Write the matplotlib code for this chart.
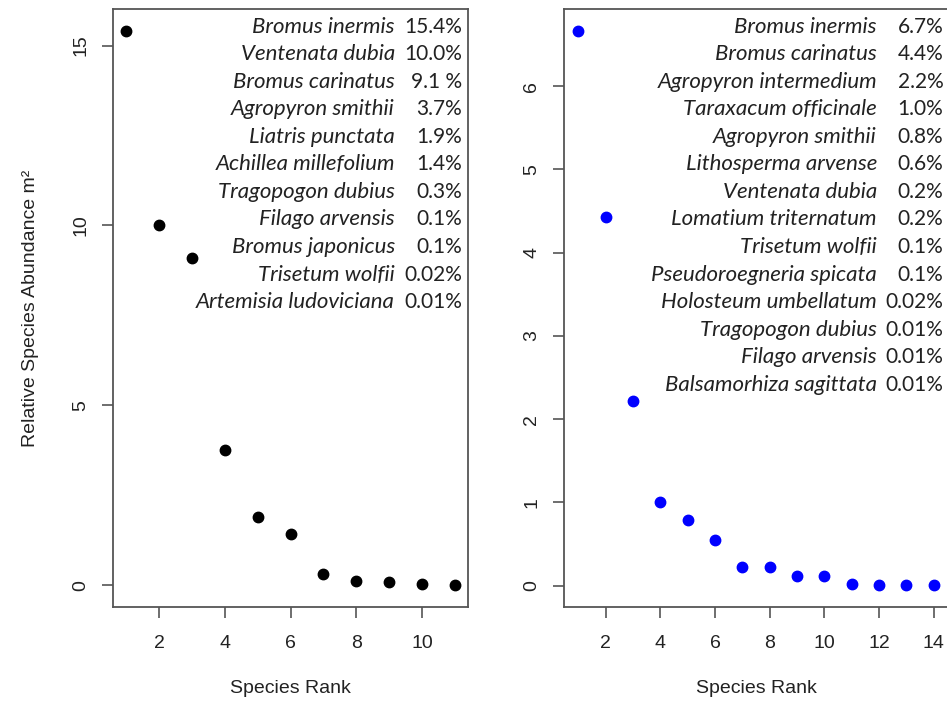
import matplotlib
matplotlib.use("Agg")
import matplotlib.pyplot as plt

# left panel data
ranks_a = [1, 2, 3, 4, 5, 6, 7, 8, 9, 10, 11]
abund_a = [15.4, 10.0, 9.1, 3.75, 1.9, 1.43, 0.3, 0.11, 0.1, 0.02, 0.01]
species_a = ["Bromus inermis", "Ventenata dubia", "Bromus carinatus", "Agropyron smithii",
             "Liatris punctata", "Achillea millefolium", "Tragopogon dubius", "Filago arvensis",
             "Bromus japonicus", "Trisetum wolfii", "Artemisia ludoviciana"]
pct_a = ["15.4%", "10.0%", "9.1 %", "3.7%", "1.9%", "1.4%", "0.3%", "0.1%", "0.1%", "0.02%", "0.01%"]

# right panel data
ranks_b = [1, 2, 3, 4, 5, 6, 7, 8, 9, 10, 11, 12, 13, 14]
abund_b = [6.66, 4.43, 2.22, 1.0, 0.79, 0.55, 0.23, 0.22, 0.12, 0.12, 0.02, 0.01, 0.01, 0.01]
species_b = ["Bromus inermis", "Bromus carinatus", "Agropyron intermedium", "Taraxacum officinale",
             "Agropyron smithii", "Lithosperma arvense", "Ventenata dubia", "Lomatium triternatum",
             "Trisetum wolfii", "Pseudoroegneria spicata", "Holosteum umbellatum", "Tragopogon dubius",
             "Filago arvensis", "Balsamorhiza sagittata"]
pct_b = ["6.7%", "4.4%", "2.2%", "1.0%", "0.8%", "0.6%", "0.2%", "0.2%", "0.1%", "0.1%",
         "0.02%", "0.01%", "0.01%", "0.01%"]

plt.rcParams['font.family'] = ['Liberation Sans', 'DejaVu Sans']

fig = plt.figure(figsize=(9.47, 7.02), dpi=100)
ax1 = fig.add_axes([113/947, 95/702, 355/947, 598/702])
ax2 = fig.add_axes([564/947, 95/702, 384/947, 598/702])


def style(ax, x, y, xticks, yticks):
    lo, hi = min(x), max(x)
    ax.set_xlim(lo - 0.04*(hi-lo), hi + 0.04*(hi-lo))
    lo, hi = min(y), max(y)
    ax.set_ylim(lo - 0.04*(hi-lo), hi + 0.04*(hi-lo))
    ax.set_xticks(xticks)
    ax.set_yticks(yticks)
    for s in ax.spines.values():
        s.set_color("#555555")
        s.set_linewidth(1.3)
    ax.tick_params(axis='both', length=8, width=1.2, color="#555555",
                   labelsize=14, labelcolor="#222222")
    ax.tick_params(axis='x', pad=12)
    ax.tick_params(axis='y', pad=9)
    for lab in ax.get_yticklabels():
        lab.set_rotation(90)
        lab.set_va('center')
    ax.set_xlabel("Species Rank", fontsize=14, color="#222222", labelpad=20)


def labels(ax, names, pcts, xn, xp):
    for i, (n, p) in enumerate(zip(names, pcts)):
        yy = 0.970 - i*0.046
        ax.text(xn, yy, n, transform=ax.transAxes, ha='right', va='center',
                fontsize=16, style='italic', family='Lato', color="#222222")
        ax.text(xp, yy, p, transform=ax.transAxes, ha='right', va='center',
                fontsize=15, family='Lato', color="#222222")


ax1.plot(ranks_a, abund_a, 'o', color='black', markersize=7.5)
style(ax1, ranks_a, abund_a, [2, 4, 6, 8, 10], [0, 5, 10, 15])
ax1.set_ylabel("Relative Species Abundance m²", fontsize=14, color="#222222", labelpad=24)
labels(ax1, species_a, pct_a, 0.794, 0.983)

ax2.plot(ranks_b, abund_b, 'o', color='#0000ff', markersize=7.5)
style(ax2, ranks_b, abund_b, [2, 4, 6, 8, 10, 12, 14], [0, 1, 2, 3, 4, 5, 6])
labels(ax2, species_b, pct_b, 0.815, 0.988)

fig.savefig("out.png", dpi=100)
